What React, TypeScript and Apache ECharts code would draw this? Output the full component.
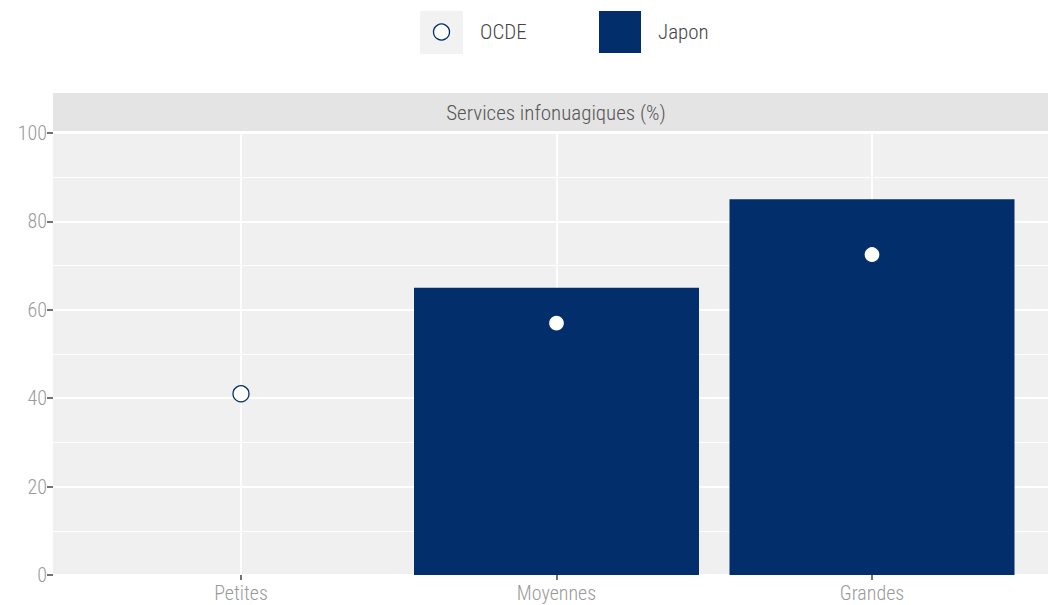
import React, { useEffect, useRef } from "react";
import * as echarts from "echarts";

const categories = ["Petites", "Moyennes", "Grandes"];
const japonValues: (number | string)[] = ["-", 65, 85];
const ocdeValues = [41, 57, 72.5];
const yTicks = [0, 20, 40, 60, 80, 100];
const stripTitle = "Services infonuagiques (%)";
const legendNames = ["OCDE", "Japon"];

const BLUE = "#022f6b";
const FONT = "'Roboto Condensed', 'DejaVu Sans Condensed', 'Liberation Sans Narrow', 'Roboto', sans-serif";
const LABEL_GRAY = "#9a9a9a";

export default function App() {
  const ref = useRef<HTMLDivElement>(null);
  useEffect(() => {
    document.body.style.margin = "0";
    const chart = echarts.init(ref.current!, null, { renderer: "svg" });
    const top = 133;
    const bottom = 30;
    chart.setOption({
      animation: false,
      textStyle: { fontFamily: FONT, fontWeight: 300 },
      grid: [
        { left: 53, right: 0, top, bottom, show: true, backgroundColor: "#f0f0f0", borderWidth: 0, containLabel: false },
        { left: 241, right: 176, top, bottom, containLabel: false },
      ],
      xAxis: [
        { type: "value", gridIndex: 0, min: 0, max: 1, show: false },
        {
          type: "category",
          gridIndex: 1,
          data: categories,
          boundaryGap: false,
          axisLine: { show: false },
          axisTick: { show: true, length: 5, lineStyle: { color: "#444", width: 1.5 } },
          axisLabel: { color: LABEL_GRAY, fontSize: 20, margin: 8, fontFamily: FONT, fontWeight: 300 },
          splitLine: { show: true, lineStyle: { color: "#ffffff", width: 1.8 } },
        },
      ],
      yAxis: [
        {
          type: "value",
          gridIndex: 0,
          min: yTicks[0],
          max: yTicks[yTicks.length - 1],
          interval: 20,
          axisLine: { show: false },
          axisTick: { show: true, length: 6, lineStyle: { color: "#444", width: 1.5 } },
          axisLabel: { color: LABEL_GRAY, fontSize: 20, margin: 6, fontFamily: FONT, fontWeight: 300 },
          splitLine: { show: true, lineStyle: { color: "#ffffff", width: 1.8 } },
          minorTick: { show: false, splitNumber: 2 },
          minorSplitLine: { show: true, lineStyle: { color: "#ffffff", width: 1 } },
        },
        { type: "value", gridIndex: 1, min: 0, max: 100, show: false },
      ],
      series: [
        {
          name: legendNames[1],
          type: "bar",
          xAxisIndex: 1,
          yAxisIndex: 1,
          data: japonValues,
          barWidth: 285,
          clip: false,
          itemStyle: { color: BLUE },
          z: 2,
        },
        {
          name: legendNames[0],
          type: "scatter",
          xAxisIndex: 1,
          yAxisIndex: 1,
          data: ocdeValues,
          symbol: "circle",
          symbolSize: 16,
          itemStyle: { color: "#ffffff", borderColor: BLUE, borderWidth: 1.3, opacity: 1 },
          z: 3,
        },
      ],
      graphic: [
        { type: "rect", shape: { x: 53, y: 93, width: 995, height: 38 }, style: { fill: "#e4e4e4" }, silent: true },
        {
          type: "text",
          x: 556,
          y: 113,
          style: { text: stripTitle, fill: "#555555", font: `300 21px ${FONT}`, align: "center", verticalAlign: "middle" },
        },
        { type: "rect", shape: { x: 420, y: 11, width: 43, height: 43 }, style: { fill: "#f2f2f2" } },
        { type: "circle", shape: { cx: 441.5, cy: 32, r: 8 }, style: { fill: "#ffffff", stroke: BLUE, lineWidth: 1.3 } },
        {
          type: "text",
          x: 480,
          y: 32,
          style: { text: legendNames[0], fill: "#444444", font: `300 21px ${FONT}`, verticalAlign: "middle" },
        },
        { type: "rect", shape: { x: 599, y: 11, width: 42, height: 42 }, style: { fill: BLUE } },
        {
          type: "text",
          x: 658,
          y: 32,
          style: { text: legendNames[1], fill: "#444444", font: `300 21px ${FONT}`, verticalAlign: "middle" },
        },
      ],
    });
    return () => chart.dispose();
  }, []);
  return <div ref={ref} style={{ width: 1048, height: 605 }} />;
}
